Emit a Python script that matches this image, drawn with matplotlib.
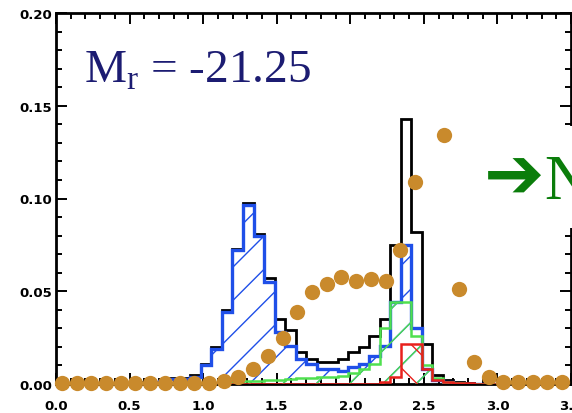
import numpy as np
import matplotlib
matplotlib.use("Agg")
import matplotlib.pyplot as plt
from matplotlib.patches import Rectangle
from matplotlib.ticker import MultipleLocator, FormatStrFormatter

plt.rcParams["mathtext.fontset"] = "custom"
plt.rcParams["mathtext.rm"] = "Liberation Serif"
plt.rcParams["hatch.linewidth"] = 1.0

# =========================
# DATA
# =========================
# colour bins: first edge 0.985, width 0.0715 (bins k = -6 .. 26)
bin_start = 0.985
bin_width = 0.0715

total = [0.001, 0.001, 0.002, 0.003, 0.003, 0.005,
         0.011, 0.020, 0.040, 0.073, 0.0976, 0.081, 0.057, 0.035,
         0.029, 0.017, 0.0135, 0.012, 0.012, 0.0135, 0.017, 0.020,
         0.026, 0.035, 0.075, 0.143, 0.082, 0.0215, 0.005, 0.002,
         0.001, 0.0005, 0.0]
blue_seq = [0.0005, 0.001, 0.0015, 0.0025, 0.0025, 0.004,
            0.010, 0.019, 0.039, 0.072, 0.0965, 0.080, 0.055, 0.028,
            0.0205, 0.0135, 0.011, 0.008, 0.008, 0.007, 0.009, 0.011,
            0.015, 0.0205, 0.044, 0.075, 0.030, 0.008, 0.002, 0.001,
            0.0, 0.0, 0.0]
green_seq = [0.0, 0.0, 0.0, 0.0, 0.0, 0.0,
             0.0, 0.0, 0.0, 0.001, 0.0015, 0.0015, 0.002, 0.002,
             0.0025, 0.003, 0.0035, 0.004, 0.004, 0.0045, 0.006, 0.008,
             0.011, 0.030, 0.044, 0.044, 0.026, 0.010, 0.003, 0.001,
             0.0005, 0.0, 0.0]
red_seq = [0.0, 0.0, 0.0, 0.0, 0.0, 0.0,
           0.0, 0.0, 0.0, 0.0, 0.0, 0.0, 0.0, 0.0,
           0.0, 0.0, 0.0, 0.0, 0.0, 0.0, 0.0, 0.0,
           0.0, 0.001, 0.004, 0.0215, 0.0215, 0.008, 0.002, 0.001,
           0.0008, 0.0005, 0.0]

# model points
model_x = [0.04, 0.14, 0.24, 0.34, 0.44, 0.54, 0.64, 0.74, 0.84, 0.94,
           1.04, 1.14, 1.24, 1.34, 1.44, 1.54, 1.64, 1.74, 1.84, 1.94,
           2.04, 2.14, 2.24, 2.34, 2.44, 2.64, 2.74, 2.84, 2.94, 3.04,
           3.14, 3.24, 3.34, 3.44]
model_y = [0.0005, 0.0005, 0.0005, 0.0005, 0.0005, 0.0005, 0.0005, 0.0005,
           0.0005, 0.0005, 0.0008, 0.0016, 0.004, 0.008, 0.015, 0.025,
           0.039, 0.0495, 0.054, 0.0577, 0.0555, 0.0566, 0.0555, 0.072,
           0.109, 0.134, 0.051, 0.0118, 0.0038, 0.001, 0.001, 0.001,
           0.001, 0.001]

# pad with empty bins so the outlines run along the whole axis
edges = bin_start + bin_width * np.arange(-14, 36)
pad = (8, 8)
total = np.pad(total, pad)
blue_seq = np.pad(blue_seq, pad)
green_seq = np.pad(green_seq, pad)
red_seq = np.pad(red_seq, pad)

# =========================
# PLOT
# =========================
fig = plt.figure(figsize=(5.72, 4.14), dpi=100)
ax = fig.add_axes([56 / 572, 29 / 414, 515 / 572, 371 / 414])

ax.stairs(total, edges, color="black", lw=2.0, zorder=2)
ax.stairs(blue_seq, edges, color="#1f4fe8", lw=2.4, hatch="/", zorder=3)
ax.stairs(green_seq, edges, color="#4fe04f", lw=1.8, hatch="/", zorder=4)
ax.stairs(red_seq, edges, color="#e8201c", lw=1.8, hatch="\\", zorder=5)

ax.plot(model_x, model_y, "o", color="#c98a2c", ms=11, mec="none",
        zorder=6, clip_on=False)

ax.set_xlim(0, 3.5)
ax.set_ylim(0, 0.2)
ax.xaxis.set_major_locator(MultipleLocator(0.5))
ax.xaxis.set_minor_locator(MultipleLocator(0.1))
ax.yaxis.set_major_locator(MultipleLocator(0.05))
ax.yaxis.set_minor_locator(MultipleLocator(0.01))
ax.xaxis.set_major_formatter(FormatStrFormatter("%.1f"))
ax.yaxis.set_major_formatter(FormatStrFormatter("%.2f"))
ax.tick_params(which="both", direction="in", top=True, right=True,
               width=1.4, labelsize=9.5)
ax.tick_params(which="major", length=8)
ax.tick_params(which="minor", length=4)
ax.tick_params(axis="x", pad=11)
ax.tick_params(axis="y", pad=3)
for lab in ax.get_xticklabels() + ax.get_yticklabels():
    lab.set_fontweight("bold")
for sp in ax.spines.values():
    sp.set_linewidth(2.0)

ax.text((84 - 56) / 515, (385 - 83) / 371, r"M$_{\rm r}$ = -21.25",
        transform=ax.transAxes, fontsize=34, color="#1c1c72",
        family="Liberation Serif", va="baseline", ha="left")

# white panel with the arrow label on the right
fig.add_artist(Rectangle((458 / 572, (414 - 229) / 414), 114 / 572, 102 / 414,
                         transform=fig.transFigure, facecolor="white",
                         edgecolor="none", zorder=5))
fig.text(484 / 572, (414 - 199) / 414, "\u2794", fontsize=52,
         color="#0b7d0b", family="DejaVu Sans",
         va="baseline", ha="left", zorder=6)
fig.text(544 / 572, (414 - 199) / 414, "N", fontsize=45,
         color="#0b7d0b", family="Liberation Serif",
         va="baseline", ha="left", zorder=6)

fig.savefig("out.png", dpi=100)
